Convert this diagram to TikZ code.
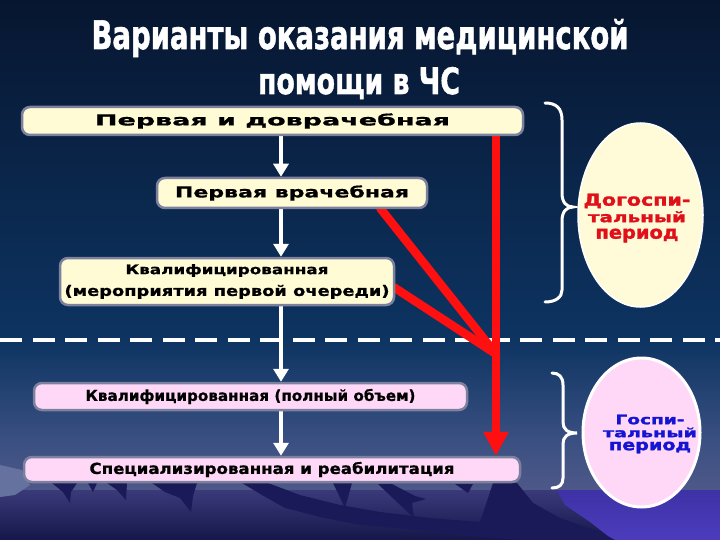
\documentclass[tikz,border=0pt]{standalone}
\usepackage{fontspec}
\usepackage{graphicx}
\setmainfont{DejaVu Sans}
\newfontfamily\heavyfont{DejaVu Sans}[UprightFont={* Bold}, FakeBold=1.6]
\newfontfamily\boxfont{DejaVu Sans}[UprightFont={* Bold}, FakeBold=0.8]
\usetikzlibrary{arrows.meta,shapes.geometric,calc}
\pgfdeclarelayer{bglayer}
\pgfdeclarelayer{connlayer}
\pgfsetlayers{bglayer,connlayer,main}
\definecolor{bgA}{HTML}{071630}
\definecolor{bgB}{HTML}{0D3462}
\definecolor{bgC}{HTML}{3A5082}
\definecolor{bgD}{HTML}{4E5888}
\definecolor{bgE}{HTML}{3A3A7A}
\definecolor{bgF}{HTML}{15174A}
\definecolor{seaA}{HTML}{3E32A6}
\definecolor{seaB}{HTML}{4C3CBC}
\definecolor{mtn}{HTML}{1A1A58}
\definecolor{mound}{HTML}{65729F}
\definecolor{boxedge}{HTML}{7E819E}
\definecolor{boxyellow}{HTML}{FFFBD4}
\definecolor{boxpink}{HTML}{FFD8F8}
\definecolor{ellyellow}{HTML}{FFFBD8}
\definecolor{redline}{HTML}{FF1010}
\definecolor{redtext}{HTML}{E0101A}
\definecolor{bluetext}{HTML}{1414D2}
\begin{document}
\begin{tikzpicture}[x=1pt,y=-1pt,
  box/.style={draw=boxedge, line width=2.5pt, rounded corners=8pt, inner sep=0pt,
    text=black, font=\boxfont, align=center},
  ybox/.style={box, fill=boxyellow},
  pbox/.style={box, fill=boxpink},
  warrow/.style={draw=white, line width=4pt, -{Triangle[width=15pt,length=13pt]}},
  rline/.style={draw=redline, line width=8.5pt, line cap=round, line join=round},
  rarrow/.style={draw=redline, line width=8.5pt, -{Triangle[width=24pt,length=24pt]}},
  bracestyle/.style={draw=white, line width=3pt, line cap=round},
  titletext/.style={anchor=base, inner sep=0pt, font=\heavyfont},
]
\useasboundingbox (0,0) rectangle (720,540);
\begin{pgfonlayer}{bglayer}
% background
\shade[top color=bgA, bottom color=bgB] (0,0) rectangle (720,341);
\shade[top color=bgB, bottom color=bgC] (0,340) rectangle (720,441);
\shade[top color=bgC, bottom color=bgD] (0,440) rectangle (720,491);
\shade[top color=bgE, bottom color=bgF] (0,490) rectangle (720,540);
\shade[top color=seaA, bottom color=seaB] (557,490) -- (720,490) -- (720,540) -- (613,540) -- (590,522) -- (565,505) -- cycle;
\fill[mound] (0,465) -- (22,470) -- (30,485) -- (15,495) -- (0,497) -- cycle;
% mountains
\fill[mtn] (52,483) -- (77,483) -- (71,492) -- (70,503) -- (63,492) -- cycle;
\fill[mtn] (88,483) -- (97,483) -- (93,492) -- cycle;
\fill[mtn] (107,483) -- (127,483) -- (126,500) -- (117,490) -- cycle;
\fill[mtn] (152,483) -- (197,483) -- (193,496) -- (191,512) -- (180,498) -- (165,492) -- cycle;
\fill[mtn] (242,483) -- (268,483) -- (300,495) -- (340,505) -- (380,512) -- (430,518) -- (480,522)
  -- (493,483) -- (517,483) -- (533,503) -- (560,518) -- (600,532) -- (615,540) -- (520,540)
  -- (470,536) -- (420,530) -- (360,525) -- (320,517) -- (285,508) -- (262,495) -- cycle;
\fill[mtn] (333,483) -- (352,483) -- (345,508) -- cycle;
\fill[mtn] (378,484) -- (392,484) -- (415,496) -- (426,499) -- (412,503) -- (414,518) -- (398,503) -- cycle;
\fill[mtn] (455,484) -- (473,484) -- (468,493) -- cycle;
% separator
\coordinate (dl) at (0,340);
\coordinate (dr) at (720,340);
\draw[white, line width=4pt, dash pattern=on 22pt off 10.5pt] (dl) -- (dr);
\end{pgfonlayer}
% boxes
\node[ybox, minimum width=501pt, minimum height=28pt] (b1) at (272.5,121)
    {\resizebox{355pt}{12pt}{Первая и доврачебная}};
\node[ybox, minimum width=270pt, minimum height=30pt] (b2) at (292,193)
    {\resizebox{234pt}{12pt}{Первая врачебная}};
\node[ybox, minimum width=334pt, minimum height=47pt, font=\boxfont\fontsize{10}{12}\selectfont] (b3) at (227,281.5)
    {\resizebox{203pt}{10pt}{Квалифицированная}\\[7pt]\resizebox{325pt}{11pt}{(мероприятия первой очереди)}};
\node[pbox, minimum width=433pt, minimum height=27pt] (b4) at (250.5,396.5)
    {\resizebox{330pt}{12pt}{Квалифицированная (полный объем)}};
\node[pbox, minimum width=496pt, minimum height=25pt] (b5) at (272,469.5)
    {\resizebox{365pt}{12pt}{Специализированная и реабилитация}};
% connectors
\coordinate (m) at (496,354);
\coordinate (ax) at (281,0);
\begin{pgfonlayer}{connlayer}
\draw[rline] ($(b2.south east)+(-48,-1)$) -- (m);
\draw[rline] ($(b3.east)+(-1,6)$) -- (m);
\draw[rarrow] (b1.south -| m) -- (b5.north -| m);
\draw[warrow] (b1.south -| ax) -- (b2.north -| ax);
\draw[warrow] (b2.south -| ax) -- (b3.north -| ax);
\draw[warrow] (b3.south -| ax) -- (b4.north -| ax);
\draw[warrow] (b4.south -| ax) -- (b5.north -| ax);
\end{pgfonlayer}
% braces
\draw[bracestyle] (545,103) .. controls (556,103) and (562,108) .. (562,120) -- (562,193)
  .. controls (562,202) and (566,207) .. (573,207) .. controls (566,207) and (562,212) .. (562,221)
  -- (562,290) .. controls (562,297) and (556,302) .. (545,302);
\draw[bracestyle] (552,373) .. controls (559,373) and (563,377) .. (563,385) -- (563,422)
  .. controls (563,429) and (567,433) .. (577,433) .. controls (567,433) and (563,437) .. (563,444)
  -- (563,478) .. controls (563,485) and (559,488) .. (552,488);
% ellipses
\node[ellipse, draw=white, line width=1.5pt, fill=ellyellow, minimum width=125pt, minimum height=184pt, inner sep=0pt] (e1) at (640.5,215) {};
\node[text=redtext, font=\heavyfont\fontsize{10}{16.5}\selectfont, align=center, inner sep=0pt] (e1t) at (637,218)
  {\resizebox{107pt}{12pt}{Догоспи-}\\\resizebox{98pt}{11pt}{тальный}\\\resizebox{83pt}{10pt}{период}};
\node[ellipse, draw=white, line width=3pt, fill=boxpink, minimum width=117pt, minimum height=149pt, inner sep=0pt] (e2) at (641.5,432.5) {};
\node[text=bluetext, font=\heavyfont\fontsize{10}{13}\selectfont, align=center, inner sep=0pt] (e2t) at (650,434)
  {\resizebox{69pt}{9.5pt}{Госпи-}\\\resizebox{94pt}{9.5pt}{тальный}\\\resizebox{82pt}{8.5pt}{период}};
% title
\node[titletext, text=white] (t1) at (360,49) {\resizebox{537pt}{30pt}{Варианты оказания медицинской}};
\node[titletext, text=white] (t2) at (359,94) {\resizebox{202pt}{27pt}{помощи в ЧС}};
\end{tikzpicture}
\end{document}
